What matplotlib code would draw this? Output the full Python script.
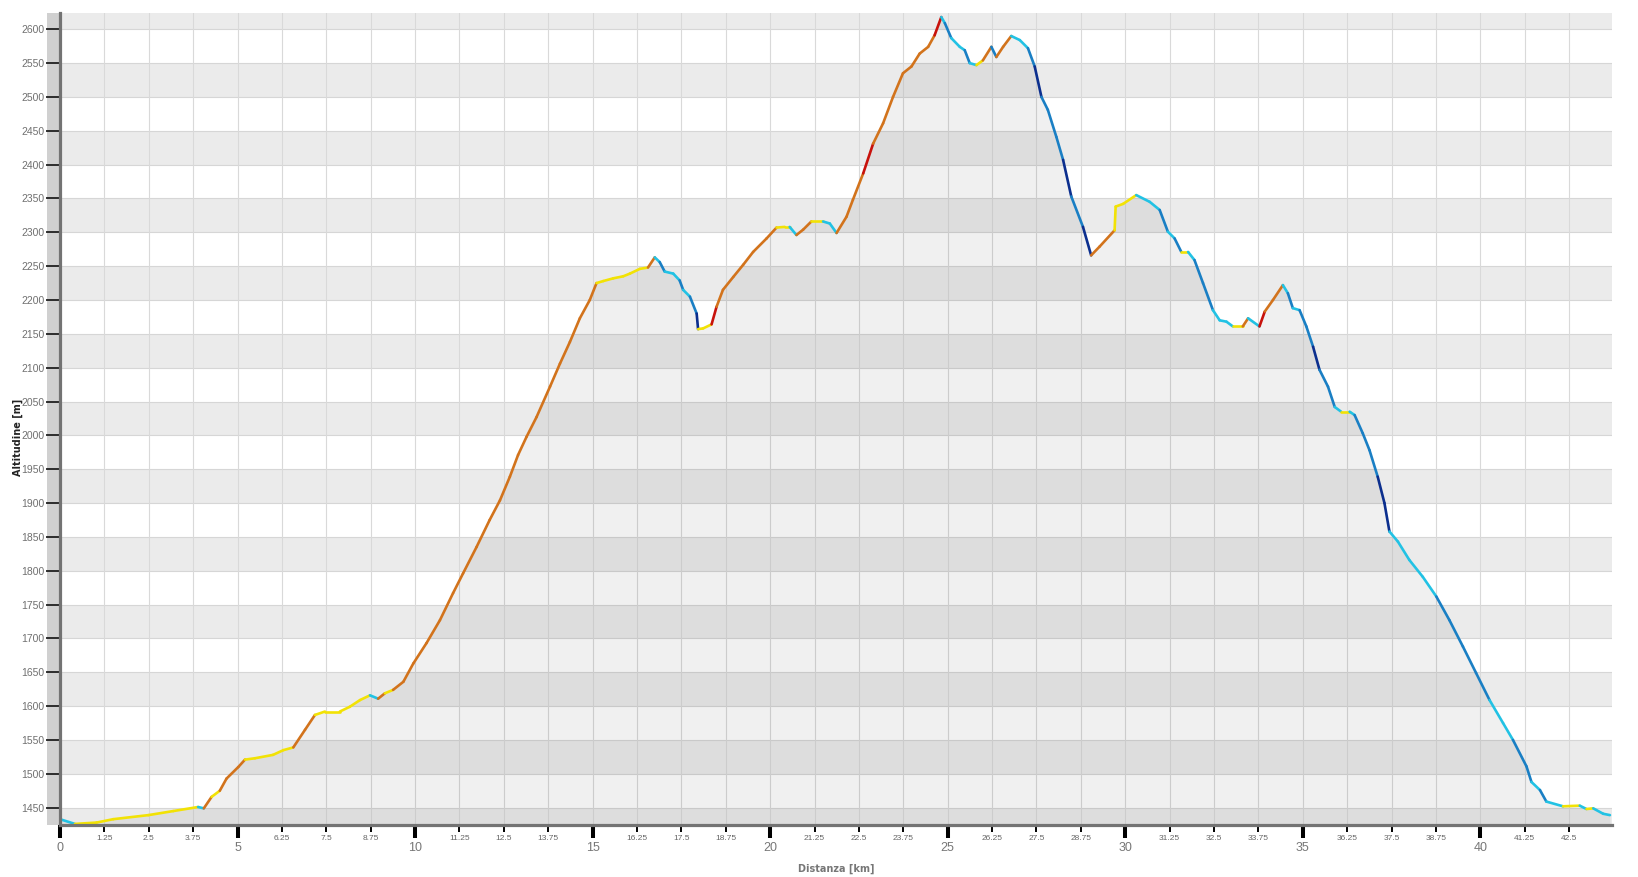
import numpy as np
import matplotlib
matplotlib.use("Agg")
import matplotlib.pyplot as plt
from matplotlib.collections import LineCollection
from matplotlib.patches import Rectangle

# profile: distance [km], altitude [m]
distanza = [
    0.00, 0.42, 1.03, 1.50, 2.49, 3.19, 3.89, 4.05, 4.27, 4.50, 4.69, 5.02,
    5.21, 5.49, 6.00, 6.29, 6.57, 6.90, 7.18, 7.46, 7.88, 8.16, 8.45, 8.73,
    8.96, 9.15, 9.38, 9.67, 9.95, 10.32, 10.70, 11.07, 11.35, 11.73, 12.10,
    12.39, 12.67, 12.90, 13.14, 13.42, 13.80, 14.08, 14.36, 14.64, 14.92,
    15.11, 15.30, 15.58, 15.86, 16.05, 16.33, 16.56, 16.75, 16.89, 17.03,
    17.27, 17.45, 17.55, 17.74, 17.93, 17.97, 18.11, 18.35, 18.49, 18.67,
    18.96, 19.24, 19.52, 19.90, 20.18, 20.41, 20.55, 20.74, 20.93, 21.16,
    21.49, 21.68, 21.87, 22.15, 22.33, 22.62, 22.90, 23.18, 23.46, 23.74,
    23.98, 24.21, 24.45, 24.63, 24.82, 24.92, 25.10, 25.34, 25.48, 25.62,
    25.81, 25.99, 26.23, 26.37, 26.56, 26.79, 27.03, 27.26, 27.45, 27.64,
    27.82, 28.06, 28.25, 28.48, 28.81, 29.04, 29.28, 29.70, 29.73, 29.94,
    30.31, 30.69, 30.97, 31.20, 31.39, 31.58, 31.77, 31.95, 32.19, 32.47,
    32.66, 32.85, 33.03, 33.31, 33.46, 33.78, 33.93, 34.16, 34.44, 34.58,
    34.72, 34.91, 35.10, 35.29, 35.47, 35.71, 35.90, 36.08, 36.32, 36.46,
    36.69, 36.88, 37.11, 37.30, 37.44, 37.68, 38.00, 38.38, 38.76, 39.13,
    39.51, 39.88, 40.26, 40.64, 40.92, 41.30, 41.44, 41.68, 41.86, 42.33,
    42.80, 42.99, 43.18, 43.46, 43.65,
]
altitudine = [
    1433, 1426, 1428, 1433, 1439, 1445, 1451, 1449, 1466, 1475, 1493, 1510,
    1521, 1523, 1528, 1535, 1539, 1565, 1587, 1592, 1592, 1599, 1609, 1616,
    1611, 1619, 1624, 1636, 1663, 1693, 1727, 1767, 1796, 1835, 1875,
    1904, 1939, 1971, 1998, 2027, 2072, 2106, 2138, 2173, 2200,
    2225, 2228, 2232, 2235, 2239, 2246, 2248, 2263, 2256, 2242,
    2239, 2229, 2215, 2205, 2180, 2157, 2158, 2164, 2190, 2215,
    2234, 2252, 2271, 2291, 2307, 2308, 2308, 2296, 2304, 2316,
    2316, 2313, 2299, 2323, 2348, 2387, 2431, 2461, 2500, 2535,
    2545, 2564, 2574, 2591, 2618, 2609, 2587, 2574, 2569, 2550,
    2547, 2554, 2574, 2559, 2574, 2590, 2584, 2572, 2545, 2500,
    2481, 2441, 2407, 2353, 2308, 2266, 2279, 2303, 2338, 2342,
    2355, 2345, 2333, 2301, 2291, 2271, 2271, 2259, 2225, 2185,
    2170, 2168, 2161, 2161, 2173, 2161, 2183, 2200, 2222, 2210,
    2188, 2185, 2161, 2131, 2097, 2072, 2042, 2035, 2035, 2030,
    2003, 1978, 1939, 1900, 1858, 1843, 1816, 1791, 1762, 1727,
    1688, 1649, 1609, 1575, 1550, 1511, 1488, 1476, 1459, 1452,
    1453, 1448, 1449, 1441, 1439,
]

y_ticks = list(range(1450, 2601, 50))
x_major = [0, 5, 10, 15, 20, 25, 30, 35, 40]
x_minor = [v for v in np.arange(0, 43.0, 1.25) if v % 5 != 0]


def pendenza_color(g):
    # colour by grade (%) like the GPS software does
    if abs(g) > 80:
        return "#f2e205"
    if g >= 14:
        return "#c8120c"
    if g >= 4:
        return "#d2731c"
    if g >= 0:
        return "#f2e205"
    if g > -9:
        return "#22c2e4"
    if g > -18:
        return "#1a7fc4"
    return "#0c2f8e"


d = np.array(distanza)
h = np.array(altitudine)
grade = np.diff(h) / (np.diff(d) * 1000) * 100
colors = [pendenza_color(g) for g in grade]

fig = plt.figure(figsize=(16.38, 8.77), dpi=100)
ax = fig.add_axes([60 / 1638, 1 - 825 / 877, 1551.7 / 1638, 812 / 877])

ymin, ymax = 1424.4, 2624
ax.set_xlim(0, 43.7)
ax.set_ylim(ymin, ymax)

# alternating horizontal bands
for lo in range(1400, 2700, 100):
    ax.axhspan(lo, lo + 50, color="#ebebeb", lw=0, zorder=0)
for y in range(1450, 2651, 50):
    ax.axhline(y, color="#d6d6d6", lw=0.8, zorder=1)
for x in np.arange(1.25, 43.7, 1.25):
    ax.axvline(x, color="#d9d9d9", lw=0.8, zorder=1)

ax.fill_between(d, h, ymin, color="black", alpha=0.06, lw=0, zorder=2)

pts = np.column_stack([d, h]).reshape(-1, 1, 2)
segs = np.concatenate([pts[:-1], pts[1:]], axis=1)
lc = LineCollection(segs, colors=colors, linewidths=1.9, capstyle="round", zorder=3)
ax.add_collection(lc)

# spines
for s in ["top", "right"]:
    ax.spines[s].set_visible(False)
for s in ["left", "bottom"]:
    ax.spines[s].set_color("#737373")
    ax.spines[s].set_linewidth(2.3)
    ax.spines[s].set_zorder(5)

# gray strip left of the y axis
ax.add_patch(Rectangle((-13 / 1551.7, 0), 11.5 / 1551.7, 1, transform=ax.transAxes,
                       color="#d0d0d0", lw=0, clip_on=False, zorder=0))

ax.set_yticks(y_ticks)
ax.set_yticklabels([str(v) for v in y_ticks])
ax.tick_params(axis="y", direction="out", length=10, width=1.1, color="black",
               labelsize=7.5, labelcolor="#707070", pad=1)
for lab in ax.get_yticklabels():
    lab.set_family("Liberation Sans")

ax.set_xticks(x_major)
ax.set_xticklabels([str(v) for v in x_major])
ax.set_xticks(x_minor, minor=True)
ax.set_xticklabels([f"{v:g}" for v in x_minor], minor=True)
ax.tick_params(axis="x", which="major", direction="out", length=9.4, width=2.9,
               color="black", labelsize=9, labelcolor="#777777", pad=2.5)
ax.tick_params(axis="x", which="minor", direction="out", length=5, width=1.4,
               color="black", labelsize=6, labelcolor="#666666", pad=2)
for lab in ax.get_xticklabels() + ax.get_xticklabels(minor=True):
    lab.set_family("Liberation Sans")

fig.text(836 / 1638, 1 - 869 / 877, "Distanza [km]", ha="center", va="center",
         fontsize=7, fontweight="bold", color="#777777")
fig.text(17.5 / 1638, 1 - 437 / 877, "Altitudine [m]", ha="center", va="center",
         rotation=90, fontsize=7, fontweight="bold", color="#222222")

fig.savefig("out.png", dpi=100)
